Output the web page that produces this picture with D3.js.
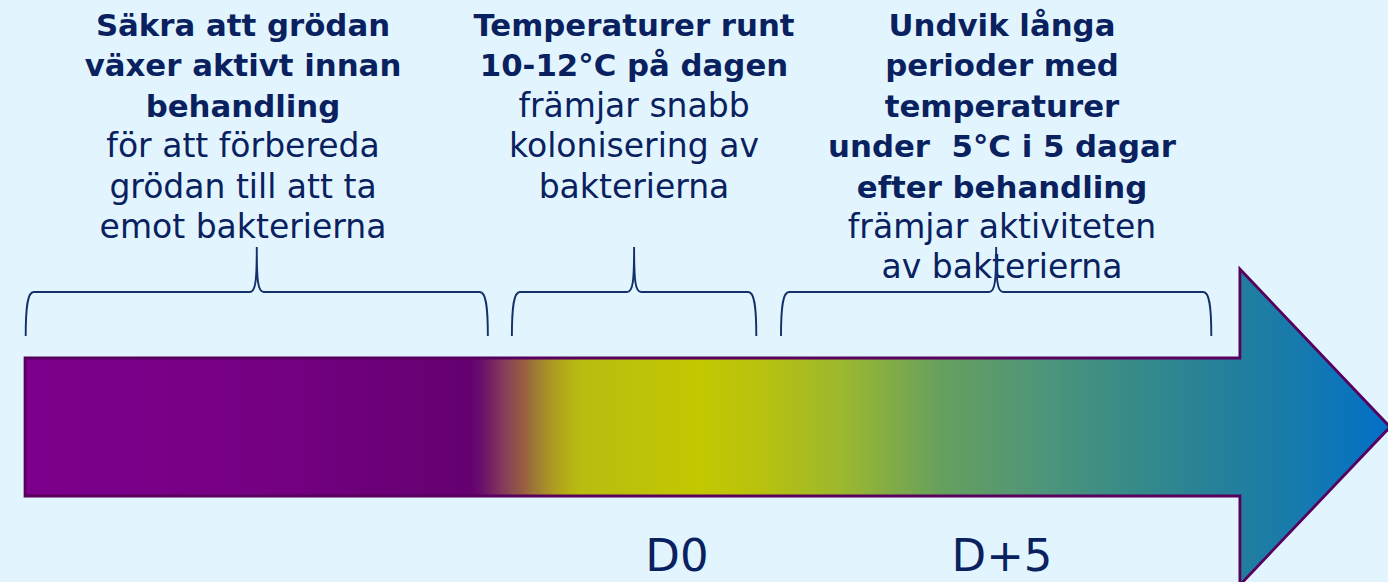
<!DOCTYPE html>
<html>
<head>
<meta charset="utf-8">
<script src="https://cdn.jsdelivr.net/npm/d3@7"></script>
<style>
  html, body { margin: 0; padding: 0; background: #e2f5fe; }
  svg { display: block; }
  .txt { fill: #0a2160; white-space: pre; }
</style>
</head>
<body>
<svg id="chart"></svg>
<script>
//Timeline data (days relative to treatment)
const dayTicks = [0, 5];
const dayLabels = ["D0", "D+5"];
const arrowSpan = [-10.03, 8.66, 10.97]; // start, head base, tip
const periods = [[-10.02, -2.91], [-2.54, 1.22], [1.6, 8.22]];

//Texts for every period
const boldLines = [
  ["Säkra att grödan", "växer aktivt innan", "behandling"],
  ["Temperaturer runt", "10-12°C på dagen"],
  ["Undvik långa", "perioder med", "temperaturer", "under  5°C i 5 dagar", "efter behandling"]
];
const normalLines = [
  ["för att förbereda", "grödan till att ta", "emot bakterierna"],
  ["främjar snabb", "kolonisering av", "bakterierna"],
  ["främjar aktiviteten", "av bakterierna"]
];

//Gradient along the arrow
const gradStops = [
  [0, "#7d008c"], [0.165, "#760084"], [0.326, "#650070"], [0.334, "#6a0e6c"],
  [0.342, "#772262"], [0.350, "#843a5c"], [0.358, "#8e4e4e"], [0.366, "#985f40"],
  [0.374, "#9d7a36"], [0.382, "#a88f28"], [0.390, "#b0a01e"], [0.398, "#b5b014"],
  [0.406, "#b8bc12"], [0.495, "#c3c800"], [0.539, "#b8c20e"], [0.598, "#9cb82e"],
  [0.671, "#66a05e"], [0.745, "#4e957a"], [0.818, "#348a8a"], [0.891, "#217e9e"],
  [0.935, "#167aae"], [1, "#0070c8"]
];

const width = 1388;
const height = 582;

const svg = d3.select("#chart")
  .attr("width", width)
  .attr("height", height);

svg.append("rect")
  .attr("width", width)
  .attr("height", height)
  .attr("fill", "#e2f5fe");

const x = d3.scaleLinear()
  .domain([0, 5])
  .range([677, 1002]);

//Arrow
const shaftTop = 358, shaftBottom = 496, headTop = 269, headBottom = 585;
const midY = (shaftTop + shaftBottom) / 2;

const grad = svg.append("defs").append("linearGradient")
  .attr("id", "arrow-grad")
  .attr("gradientUnits", "userSpaceOnUse")
  .attr("x1", x(arrowSpan[0])).attr("x2", x(arrowSpan[2]))
  .attr("y1", 0).attr("y2", 0);

grad.selectAll("stop")
  .data(gradStops)
  .enter()
  .append("stop")
  .attr("offset", d => d[0])
  .attr("stop-color", d => d[1]);

const arrowPath = d3.path();
arrowPath.moveTo(x(arrowSpan[0]), shaftTop);
arrowPath.lineTo(x(arrowSpan[1]), shaftTop);
arrowPath.lineTo(x(arrowSpan[1]), headTop);
arrowPath.lineTo(x(arrowSpan[2]), midY);
arrowPath.lineTo(x(arrowSpan[1]), headBottom);
arrowPath.lineTo(x(arrowSpan[1]), shaftBottom);
arrowPath.lineTo(x(arrowSpan[0]), shaftBottom);
arrowPath.closePath();

svg.append("path")
  .attr("d", arrowPath.toString())
  .attr("fill", "url(#arrow-grad)")
  .attr("stroke", "#58005e")
  .attr("stroke-width", 2.8)
  .attr("stroke-linejoin", "miter");

//Text columns
const colCenters = [243, 634, 1002];
const firstBaseline = 36;
const lineGap = 40.4;

boldLines.forEach((lines, i) => {
  const all = lines.map(t => ({ t, bold: true })).concat(normalLines[i].map(t => ({ t, bold: false })));
  svg.append("g")
    .selectAll("text")
    .data(all)
    .enter()
    .append("text")
    .attr("class", "txt")
    .attr("x", colCenters[i])
    .attr("y", (d, j) => firstBaseline + j * lineGap)
    .attr("text-anchor", "middle")
    .attr("font-family", "DejaVu Sans")
    .attr("font-weight", d => d.bold ? "bold" : "normal")
    .attr("font-size", d => d.bold ? 30.8 : 33)
    .text(d => d.t);
});

//Braces
const braceBottom = 336, braceTop = 292, tipTop = 247;
function brace(x0, x1) {
  const xm = (x0 + x1) / 2;
  return `M${x0},${braceBottom} C${x0},${braceTop + 14} ${x0 + 2},${braceTop} ${x0 + 8},${braceTop}` +
    ` L${xm - 7},${braceTop} C${xm - 1},${braceTop} ${xm},${braceTop - 12} ${xm},${tipTop}` +
    ` C${xm},${braceTop - 12} ${xm + 1},${braceTop} ${xm + 7},${braceTop}` +
    ` L${x1 - 8},${braceTop} C${x1 - 2},${braceTop} ${x1},${braceTop + 14} ${x1},${braceBottom}`;
}

svg.append("g")
  .selectAll("path")
  .data(periods)
  .enter()
  .append("path")
  .attr("d", d => brace(x(d[0]), x(d[1])))
  .attr("fill", "none")
  .attr("stroke", "#14306a")
  .attr("stroke-width", 1.9);

//Day labels
svg.append("g")
  .selectAll("text")
  .data(dayTicks)
  .enter()
  .append("text")
  .attr("class", "txt")
  .attr("x", d => x(d))
  .attr("y", 571)
  .attr("text-anchor", "middle")
  .attr("font-family", "DejaVu Sans")
  .attr("font-size", 45)
  .text((d, i) => dayLabels[i]);
</script>
</body>
</html>
